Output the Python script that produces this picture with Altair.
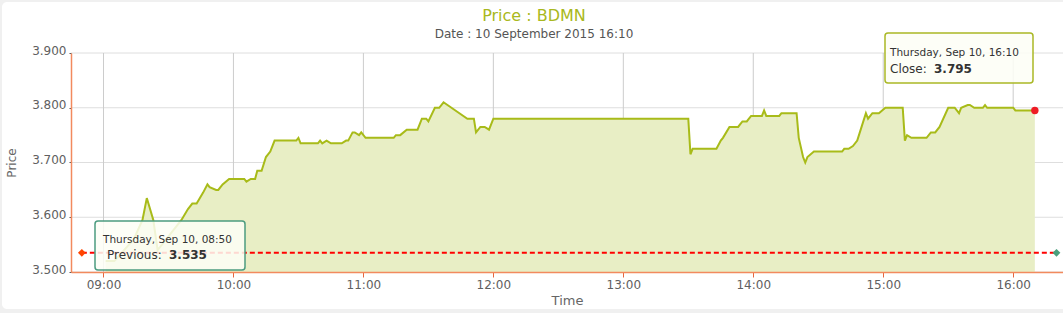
import altair as alt
import pandas as pd

# ---- data ----
times = ["09:01", "09:05", "09:14", "09:18", "09:20", "09:23", "09:25", "09:36", "09:39", "09:41",
         "09:43", "09:46", "09:48", "09:49", "09:52", "09:53", "09:55", "09:58", "10:05", "10:06",
         "10:08", "10:10", "10:11", "10:13", "10:15", "10:17", "10:19", "10:29", "10:30", "10:31",
         "10:39", "10:40", "10:41", "10:43", "10:45", "10:50", "10:52", "10:53", "10:55", "10:56",
         "10:58", "10:59", "11:01", "11:14", "11:15", "11:17", "11:20", "11:25", "11:27", "11:29",
         "11:30", "11:33", "11:35", "11:37", "11:48", "11:51", "11:52", "11:54", "11:56", "11:58",
         "12:00", "13:30", "13:31", "13:32", "13:43", "13:45", "13:46", "13:49", "13:53", "13:54",
         "13:55", "13:57", "13:59", "14:04", "14:05", "14:06", "14:12", "14:13", "14:20", "14:21",
         "14:23", "14:24", "14:25", "14:28", "14:41", "14:42", "14:44", "14:46", "14:48", "14:50",
         "14:52", "14:53", "14:54", "14:55", "14:58", "15:01", "15:09", "15:10", "15:11", "15:13",
         "15:20", "15:22", "15:24", "15:26", "15:30", "15:33", "15:35", "15:36", "15:39", "15:40",
         "15:42", "15:46", "15:47", "15:48", "16:00", "16:01", "16:10"]
prices = [3.520, 3.520, 3.560, 3.595, 3.635, 3.595, 3.540, 3.595, 3.615, 3.625,
          3.625, 3.645, 3.660, 3.655, 3.650, 3.650, 3.660, 3.670, 3.670, 3.665,
          3.670, 3.670, 3.685, 3.685, 3.710, 3.720, 3.740, 3.740, 3.745, 3.735,
          3.735, 3.740, 3.735, 3.740, 3.735, 3.735, 3.740, 3.740, 3.755, 3.755,
          3.750, 3.755, 3.745, 3.745, 3.750, 3.750, 3.760, 3.760, 3.780, 3.780,
          3.775, 3.800, 3.800, 3.810, 3.780, 3.780, 3.755, 3.765, 3.765, 3.760,
          3.780, 3.780, 3.715, 3.725, 3.725, 3.740, 3.745, 3.765, 3.765, 3.770,
          3.775, 3.775, 3.785, 3.785, 3.795, 3.785, 3.785, 3.790, 3.790, 3.745,
          3.710, 3.700, 3.710, 3.720, 3.720, 3.725, 3.725, 3.730, 3.740, 3.765,
          3.790, 3.780, 3.785, 3.790, 3.790, 3.800, 3.800, 3.740, 3.750, 3.745,
          3.745, 3.755, 3.755, 3.765, 3.800, 3.800, 3.790, 3.800, 3.805, 3.805,
          3.800, 3.800, 3.805, 3.800, 3.800, 3.795, 3.795]

prev_close = 3.535
prev_time = "08:50"
plotline_end = "16:20"
close_time = "16:10"
close_price = 3.795
area_base = 3.500

y_ticks = [3.500, 3.600, 3.700, 3.800, 3.900]
x_tick_hours = [9, 10, 11, 12, 13, 14, 15, 16]

title_text = "Price : BDMN"
subtitle_text = "Date : 10 September 2015 16:10"
tip1_date = "Thursday, Sep 10, 08:50"
tip1_label = "Previous:"
tip1_value = "3.535"
tip2_date = "Thursday, Sep 10, 16:10"
tip2_label = "Close:"
tip2_value = "3.795"


def ts(hhmm):
    return f"2015-09-10T{hhmm}:00"


def dt(h, m):
    return alt.DateTime(year=2015, month=9, date=10, hours=h, minutes=m)


FONT = "DejaVu Sans"
LINE = "#a8bb19"
FILL = "#e8eec5"
AXIS_ORANGE = "#f28a5e"

df = pd.DataFrame({"t": [ts(t) for t in times], "price": prices})
df["base"] = area_base
hgrid = pd.DataFrame({"price": y_ticks})
vgrid = pd.DataFrame({"t": [ts(f"{h:02d}:00") for h in x_tick_hours]})
prev_df = pd.DataFrame({"t": [ts(prev_time)], "t2": [ts(plotline_end)], "price": [prev_close]})
diam_df = pd.DataFrame({"t": [ts(prev_time), ts(plotline_end)], "price": [prev_close, prev_close],
                        "side": ["start", "end"]})
close_df = pd.DataFrame({"t": [ts(close_time)], "price": [close_price]})
one = pd.DataFrame({"a": [0]})

W, H = 992, 219

x_enc = alt.X("t:T",
              scale=alt.Scale(domain=[dt(8, 45), dt(16, 23)]),
              axis=alt.Axis(values=[dt(h, 0) for h in x_tick_hours], format="%H:%M",
                            title="Time", grid=False, zindex=1,
                            domainColor=AXIS_ORANGE, domainWidth=1.5,
                            tickColor="#e8643c", tickSize=5, tickWidth=1,
                            labelPadding=2, labelFont=FONT, labelFontSize=12, labelColor="#606060",
                            titleFont=FONT, titleFontSize=13, titleFontWeight="normal",
                            titleColor="#666666", titlePadding=4))
y_enc = alt.Y("price:Q",
              scale=alt.Scale(domain=[3.5, 3.9], nice=False, zero=False),
              axis=alt.Axis(values=y_ticks, format=".3f", title="Price", grid=False, zindex=1,
                            domainColor=AXIS_ORANGE, domainWidth=1.5,
                            tickColor="#555555", tickSize=2,
                            labelPadding=3, labelFont=FONT, labelFontSize=12, labelColor="#606060",
                            labelBaseline="alphabetic", labelOffset=1,
                            titleFont=FONT, titleFontSize=12, titleFontWeight="normal",
                            titleColor="#666666", titlePadding=13))

card = alt.Chart(one).mark_rect(color="white", cornerRadius=5).encode(
    x=alt.value(-69), x2=alt.value(W + 20), y=alt.value(-51), y2=alt.value(H + 37))

hg = alt.Chart(hgrid).mark_rule(color="#dedede", strokeWidth=1).encode(
    y="price:Q", x=alt.value(0), x2=alt.value(W))
vg = alt.Chart(vgrid).mark_rule(color="#cccccc", strokeWidth=1).encode(
    x="t:T", y=alt.value(0), y2=alt.value(H))

area = alt.Chart(df).mark_area(color=FILL, opacity=1).encode(
    x=x_enc, y=y_enc, y2="base:Q")
line = alt.Chart(df).mark_line(color=LINE, strokeWidth=2).encode(x="t:T", y="price:Q")

prev_rule = alt.Chart(prev_df).mark_rule(color="#ff0000", strokeWidth=2, strokeDash=[5, 3]).encode(
    x="t:T", x2="t2:T", y="price:Q")
diamonds = alt.Chart(diam_df).mark_point(shape="diamond", filled=True, size=60, opacity=1).encode(
    x="t:T", y="price:Q",
    color=alt.Color("side:N", scale=alt.Scale(domain=["start", "end"], range=["#ff4500", "#4a9f7c"]),
                    legend=None))
close_dot = alt.Chart(close_df).mark_circle(color="#ee1c25", size=55, opacity=1).encode(
    x="t:T", y="price:Q")

tip1_box = alt.Chart(one).mark_rect(fill="#fdfef6", fillOpacity=0.85, stroke="#4c9c80",
                                    strokeWidth=1.5, cornerRadius=3).encode(
    x=alt.value(24), x2=alt.value(174), y=alt.value(168), y2=alt.value(217))
tip2_box = alt.Chart(one).mark_rect(fill="#fdfef6", fillOpacity=0.85, stroke="#aab826",
                                    strokeWidth=1.5, cornerRadius=3).encode(
    x=alt.value(814), x2=alt.value(962), y=alt.value(-20), y2=alt.value(30))


def txt(s, x, y, size, color="#333333", weight="normal", align="left"):
    return alt.Chart(one).mark_text(text=s, font=FONT, fontSize=size, color=color, fontWeight=weight,
                                    align=align, baseline="alphabetic").encode(
        x=alt.value(x), y=alt.value(y))


texts = [
    txt(tip1_date, 32, 190, 10.5),
    txt(tip1_label, 36, 206, 12),
    txt(tip1_value, 98, 206, 12, weight="bold"),
    txt(tip2_date, 819, 3, 10.5),
    txt(tip2_label, 819, 20, 12),
    txt(tip2_value, 863, 20, 12, weight="bold"),
    txt(title_text, 463, -32, 16, color="#a9b820", align="center"),
    txt(subtitle_text, 463, -15, 12, color="#555555", align="center"),
]

chart = alt.layer(card, hg, vg, area, line, prev_rule, diamonds, close_dot,
                  tip1_box, tip2_box, *texts).properties(
    width=W, height=H, autosize="none",
    padding={"left": 71, "top": 53, "right": 0, "bottom": 41},
    background="#f0f0f0",
).configure_view(strokeWidth=0)

chart.save("out.html", embed_options={"renderer": "svg", "actions": False})
